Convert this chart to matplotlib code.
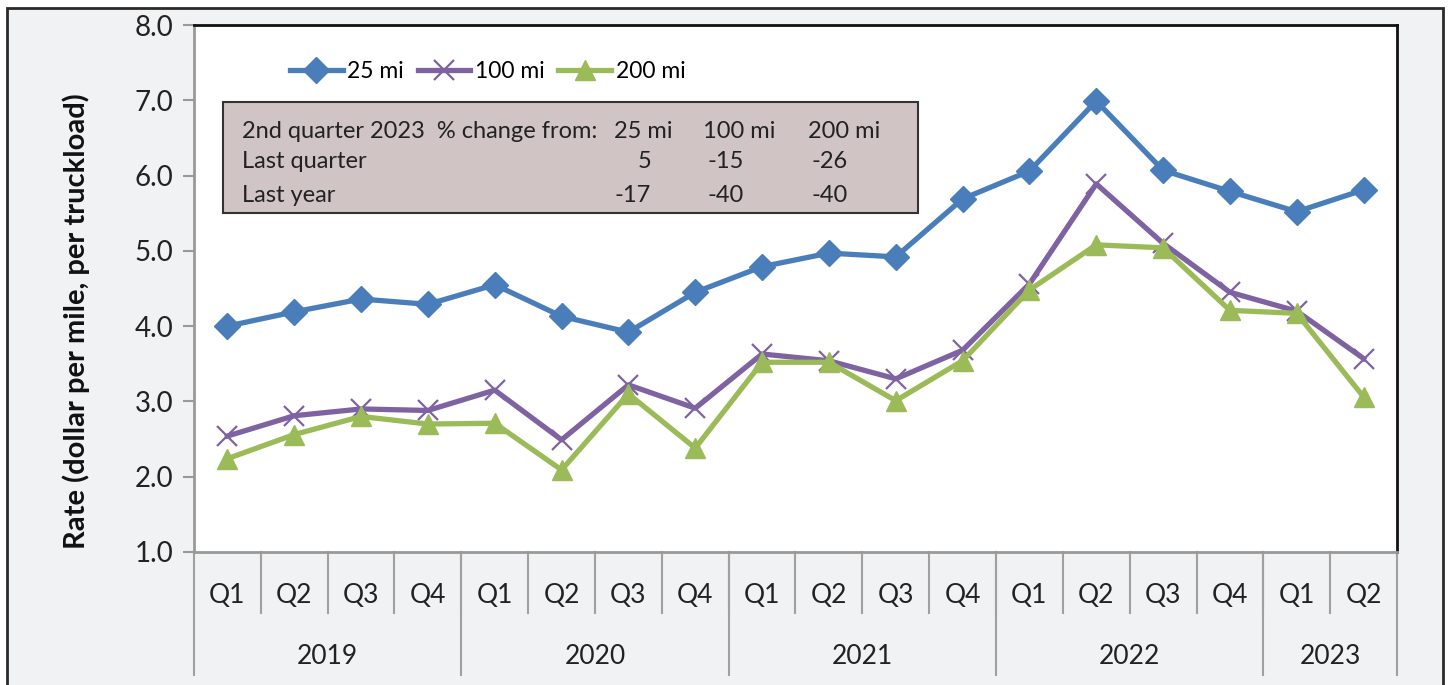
import matplotlib
matplotlib.use("Agg")
import matplotlib.pyplot as plt
from matplotlib.patches import Rectangle

plt.rcParams['font.family'] = ['Lato', 'DejaVu Sans']

# quarterly rates, dollar per mile per truckload
quarters = ['Q1', 'Q2', 'Q3', 'Q4'] * 4 + ['Q1', 'Q2']
years = ['2019', '2020', '2021', '2022', '2023']
year_counts = [4, 4, 4, 4, 2]

rate_25 = [4.00, 4.19, 4.36, 4.29, 4.55, 4.13, 3.92, 4.45, 4.79,
           4.97, 4.92, 5.69, 6.06, 6.99, 6.07, 5.79, 5.52, 5.81]
rate_100 = [2.54, 2.81, 2.90, 2.88, 3.15, 2.49, 3.22, 2.91, 3.63,
            3.54, 3.30, 3.68, 4.56, 5.89, 5.10, 4.45, 4.20, 3.57]
rate_200 = [2.24, 2.56, 2.80, 2.70, 2.71, 2.09, 3.10, 2.38, 3.52,
            3.52, 3.01, 3.54, 4.48, 5.08, 5.04, 4.21, 4.17, 3.06]

table_header = ['25 mi', '100 mi', '200 mi']
last_quarter = ['5', '-15', '-26']
last_year = ['-17', '-40', '-40']

W, H = 1452, 685
fig = plt.figure(figsize=(W / 100, H / 100), dpi=100, facecolor='white')

# outer panel with dark frame
fig.patches.append(Rectangle((7 / W, -0.05), (1443 - 7) / W, 1.05 - 8 / H,
                             transform=fig.transFigure, facecolor='#f1f2f4',
                             edgecolor='#2a2a2a', linewidth=2, zorder=-5))

ax = fig.add_axes([194 / W, 1 - 552 / H, (1397 - 194) / W, (552 - 25) / H])
ax.set_facecolor('white')
x = list(range(len(quarters)))

ax.plot(x, rate_25, color='#4a7ebb', lw=3.8, marker='D', ms=13,
        label='25 mi', zorder=4)
ax.plot(x, rate_100, color='#7e62a1', lw=3.8, marker='x', ms=14, mew=1.6,
        label='100 mi', zorder=3)
ax.plot(x, rate_200, color='#9bbb59', lw=3.8, marker='^', ms=14,
        label='200 mi', zorder=3)

ax.set_xlim(-0.5, len(quarters) - 0.5)
ax.set_ylim(1, 8)
ax.set_yticks([1, 2, 3, 4, 5, 6, 7, 8])
ax.set_yticklabels([f'{v:.1f}' for v in range(1, 9)], fontsize=20, color='#222222')
ax.tick_params(axis='y', direction='out', length=8, width=1.5, color='#999999', pad=7)
ax.set_xticks([])
for side in ['top', 'right']:
    ax.spines[side].set_color('#111111')
    ax.spines[side].set_linewidth(2)
for side in ['left', 'bottom']:
    ax.spines[side].set_color('#999999')
    ax.spines[side].set_linewidth(2)


def axx(px):
    return (px - 194) / (1397 - 194)


def axy(py):
    return (552 - py) / (552 - 25)


ax.text(axx(76), axy(321), 'Rate (dollar per mile, per truckload)', fontsize=21,
        fontweight='bold', rotation=90, ha='center', va='center',
        transform=ax.transAxes, color='#111111')

# two-level category axis
tr = ax.get_xaxis_transform()
for i, q in enumerate(quarters):
    ax.text(i, -0.083, q, transform=tr, ha='center', va='center',
            fontsize=19, color='#222222')
    if i > 0:
        ax.plot([i - 0.5, i - 0.5], [0, -0.115], transform=tr, color='#a0a0a0',
                lw=1.5, clip_on=False)
start = 0
for yr, n in zip(years, year_counts):
    ax.text(start + n / 2 - 0.5, -0.198, yr, transform=tr, ha='center',
            va='center', fontsize=19, color='#222222')
    ax.plot([start - 0.5, start - 0.5], [0, -0.233], transform=tr,
            color='#a0a0a0', lw=1.5, clip_on=False)
    start += n
ax.plot([start - 0.5, start - 0.5], [0, -0.233], transform=tr,
        color='#a0a0a0', lw=1.5, clip_on=False)

ax.legend(loc='center left', bbox_to_anchor=(0.076, 0.911), ncol=3,
          frameon=False, fontsize=16.5, handlelength=2.3, handletextpad=0.2,
          columnspacing=0.6, borderpad=0.2, borderaxespad=0)

# summary box
ax.add_patch(Rectangle((axx(223), axy(213)), axx(918) - axx(223), axy(102) - axy(213),
                       transform=ax.transAxes, facecolor='#d0c4c5',
                       edgecolor='#333333', lw=1.5, zorder=5))
txt = dict(transform=ax.transAxes, fontsize=17, color='#222222', va='center', zorder=6)
ax.text(axx(242), axy(131), '2nd quarter 2023  % change from:', ha='left', **txt)
ax.text(axx(242), axy(162), 'Last quarter', ha='left', **txt)
ax.text(axx(242), axy(195), 'Last year', ha='left', **txt)
for cx, rx, h, a, b in zip([643, 739, 844], [651, 744, 848],
                           table_header, last_quarter, last_year):
    ax.text(axx(cx), axy(131), h, ha='center', **txt)
    ax.text(axx(rx), axy(162), a, ha='right', **txt)
    ax.text(axx(rx), axy(195), b, ha='right', **txt)

fig.savefig('out.png', dpi=100)
